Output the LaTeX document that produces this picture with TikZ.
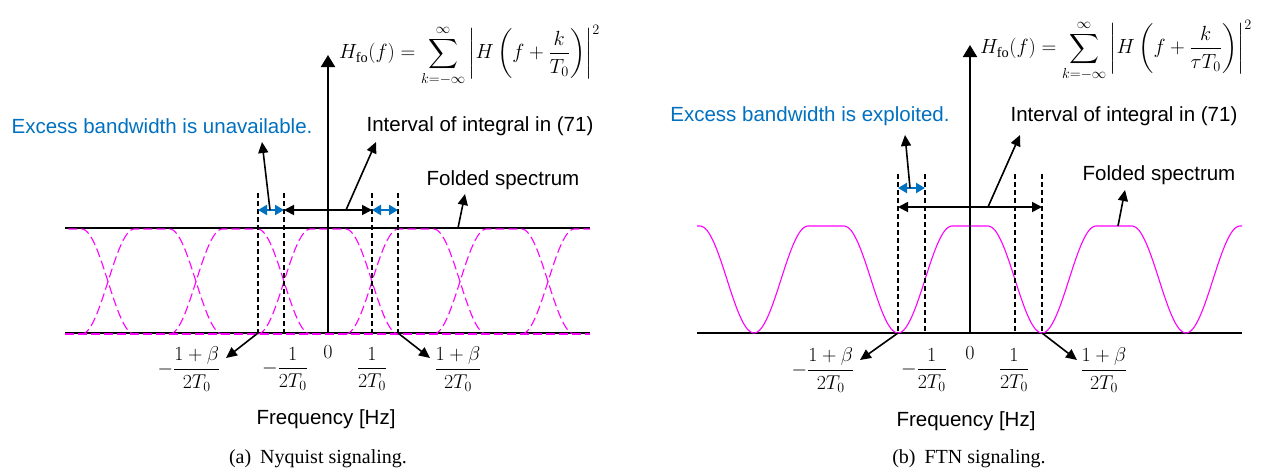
\RequirePackage{fix-cm}
\documentclass[tikz,border=0pt]{standalone}
\usepackage{amsmath}
\usepackage{fontspec}
\setmainfont{Liberation Serif}
\newfontfamily\arialf{Liberation Sans}
\usetikzlibrary{arrows.meta}
\definecolor{obl}{RGB}{0,112,192}
\definecolor{mg}{RGB}{255,0,255}
\tikzset{
  lbl/.style={font=\arialf\fontsize{20.5}{24}\selectfont, inner sep=0pt},
  caplbl/.style={font=\fontsize{20}{24}\selectfont, inner sep=0pt},
  mth/.style={font=\fontsize{20}{24}\selectfont, inner sep=0pt},
  fml/.style={font=\fontsize{20.5}{24}\selectfont, inner sep=0pt, anchor=west},
  axisln/.style={black, line width=2pt, -{Triangle[length=12pt,width=14pt]}},
  dashv/.style={black, line width=1.5pt, dash pattern=on 5pt off 3pt},
  bluearr/.style={obl, line width=2.2pt, {Triangle[length=9pt,width=10pt]}-{Triangle[length=9pt,width=10pt]}},
  blkarr/.style={black, line width=1.8pt, {Triangle[length=10pt,width=10pt]}-{Triangle[length=10pt,width=10pt]}},
  leader/.style={black, line width=1.6pt, -{Triangle[length=11pt,width=10pt]}},
  magd/.style={mg, line width=1.1pt, dash pattern=on 9pt off 4pt},
  mags/.style={mg, line width=1.1pt},
  baseln/.style={black, line width=1.2pt}
}
\begin{document}
\begin{tikzpicture}[x=1pt,y=-1pt]
\useasboundingbox (0,0) rectangle (1267,472);

% ================= Panel (a) =================
\coordinate (aL1) at (65,228); \coordinate (aR1) at (590,228);
\coordinate (aL0) at (65,333); \coordinate (aR0) at (590,333);
\draw[baseln] (aL1) -- (aR1);
\draw[baseln] (aL0) -- (aR0);
\begin{scope}
\clip (65,200) rectangle (590,340);
\draw[magd] (65,334) -- (590,334);
\foreach \c in {64,152,240,328,416,504,592}{
  \pgfmathsetmacro\ra{\c-70.4}
  \pgfmathsetmacro\rb{\c-17.6}
  \pgfmathsetmacro\rc{\c+17.6}
  \pgfmathsetmacro\rd{\c+70.4}
  \draw[magd] plot[domain=\ra:\rb, samples=30] (\x,{334-52.5*(1+cos(180*(\rb-\x)/52.8))})
     -- (\rc,229)
     -- plot[domain=\rc:\rd, samples=30] (\x,{334-52.5*(1+cos(180*(\x-\rc)/52.8))});
}
\end{scope}

% dashed verticals
\foreach \n/\xx in {1/258,2/284,3/372,4/398}{
  \coordinate (adt\n) at (\xx,193);
  \coordinate (adb\n) at (\xx,333);
  \coordinate (adm\n) at (\xx,210);
  \draw[dashv] (adt\n) -- (adb\n);
}
% axis
\coordinate (aax0) at (328,333);
\coordinate (aax1) at (328,55);
\draw[axisln] (aax0) -- (aax1);

\draw[bluearr] (adm1) -- (adm2);
\draw[bluearr] (adm3) -- (adm4);
\draw[blkarr] (adm2) -- (adm3);

% labels
\node[lbl, text=obl] (aexc) at (162,126) {Excess bandwidth is unavailable.};
\node[lbl] (aint) at (480,126) {Interval of integral in (71)};
\node[lbl] (afold) at (503,180) {Folded spectrum};
\coordinate (aes) at (270,210); \coordinate (aet) at (262,142);
\coordinate (ais) at (346,210); \coordinate (ait) at (376,142);
\coordinate (afs) at (458,228); \coordinate (aft) at (465,194);
\draw[leader] (aes) -- (aet);
\draw[leader] (ais) -- (ait);
\draw[leader] (afs) -- (aft);

\node[fml] (aform) at (339,56) {$\displaystyle H_{\mathrm{fo}}(f)=\sum_{k=-\infty}^{\infty}\left|H\left(f+\frac{k}{T_0}\right)\right|^2$};

% tick labels
\node[mth] (at1) at (189,369) {$-\dfrac{1+\beta}{2T_0}$};
\node[mth] (at2) at (285,369) {$-\dfrac{1}{2T_0}$};
\node[mth] (at0) at (328,352) {$0$};
\node[mth] (at3) at (372,369) {$\dfrac{1}{2T_0}$};
\node[mth] (at4) at (458,369) {$\dfrac{1+\beta}{2T_0}$};
\coordinate (abl) at (226,358);
\coordinate (abr) at (430,358);
\draw[leader] (adb1) -- (abl);
\draw[leader] (adb4) -- (abr);

\node[lbl] (afreq) at (326,419) {Frequency [Hz]};
\node[caplbl] (acap) at (318,459) {(a)\hspace{0.45em}Nyquist signaling.};

% ================= Panel (b) =================
\coordinate (bL0) at (697,333); \coordinate (bR0) at (1242,333);
\draw[baseln] (bL0) -- (bR0);
\begin{scope}
\clip (697,200) rectangle (1242,340);
\foreach \c in {682,826,970,1114,1258}{
  \pgfmathsetmacro\ra{\c-72}
  \pgfmathsetmacro\rb{\c-18}
  \pgfmathsetmacro\rc{\c+18}
  \pgfmathsetmacro\rd{\c+72}
  \draw[mags] plot[domain=\ra:\rb, samples=30] (\x,{333-53.5*(1+cos(180*(\rb-\x)/54))})
     -- (\rc,226)
     -- plot[domain=\rc:\rd, samples=30] (\x,{333-53.5*(1+cos(180*(\x-\rc)/54))});
}
\end{scope}

\foreach \n/\xx in {1/898,2/925,3/1015,4/1042}{
  \coordinate (bdt\n) at (\xx,174);
  \coordinate (bdb\n) at (\xx,333);
  \coordinate (bdm\n) at (\xx,188);
  \coordinate (bdk\n) at (\xx,207);
  \draw[dashv] (bdt\n) -- (bdb\n);
}
\coordinate (bax0) at (970,333);
\coordinate (bax1) at (970,45);
\draw[axisln] (bax0) -- (bax1);

\draw[bluearr] (bdm1) -- (bdm2);
\draw[blkarr] (bdk1) -- (bdk4);

\node[lbl, text=obl] (bexc) at (810,116) {Excess bandwidth is exploited.};
\node[lbl] (bint) at (1124,116) {Interval of integral in (71)};
\node[lbl] (bfold) at (1159,175) {Folded spectrum};
\coordinate (bes) at (910,188); \coordinate (bet) at (905,135);
\coordinate (bis) at (988,207); \coordinate (bit) at (1020,135);
\coordinate (bfs) at (1118,226); \coordinate (bft) at (1125,190);
\draw[leader] (bes) -- (bet);
\draw[leader] (bis) -- (bit);
\draw[leader] (bfs) -- (bft);

\node[fml] (bform) at (980,51) {$\displaystyle H_{\mathrm{fo}}(f)=\sum_{k=-\infty}^{\infty}\left|H\left(f+\frac{k}{\tau T_0}\right)\right|^2$};

\node[mth] (bt1) at (823,370) {$-\dfrac{1+\beta}{2T_0}$};
\node[mth] (bt2) at (924,370) {$-\dfrac{1}{2T_0}$};
\node[mth] (bt0) at (970,353) {$0$};
\node[mth] (bt3) at (1014,370) {$\dfrac{1}{2T_0}$};
\node[mth] (bt4) at (1104,370) {$\dfrac{1+\beta}{2T_0}$};
\coordinate (bbl) at (860,360);
\coordinate (bbr) at (1077,360);
\draw[leader] (bdb1) -- (bbl);
\draw[leader] (bdb4) -- (bbr);

\node[lbl] (bfreq) at (966,421) {Frequency [Hz]};
\node[caplbl] (bcap) at (969,459) {(b)\hspace{0.45em}FTN signaling.};
\end{tikzpicture}
\end{document}
